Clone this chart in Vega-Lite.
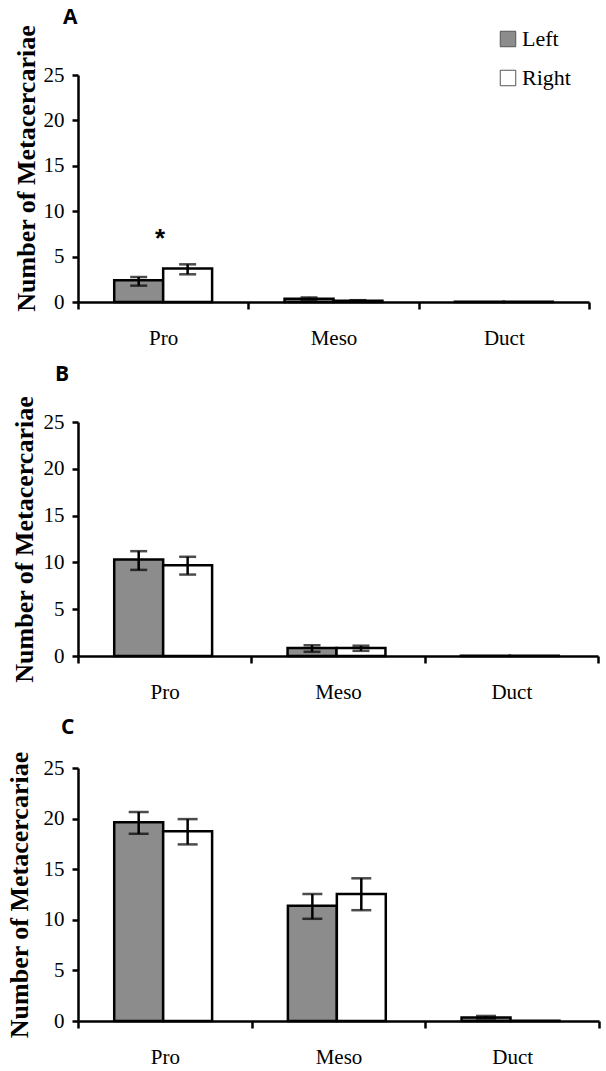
{
  "$schema": "https://vega.github.io/schema/vega-lite/v6.json",
  "padding": {"left": 5, "top": 6, "right": 0, "bottom": 0},
  "background": "white",
  "datasets": {
    "bars": [
      {"panel": "A", "region": "Pro", "side": "Left", "mean": 2.4, "lo": 1.8, "hi": 2.75},
      {"panel": "A", "region": "Pro", "side": "Right", "mean": 3.7, "lo": 3.05, "hi": 4.15},
      {"panel": "A", "region": "Meso", "side": "Left", "mean": 0.35, "lo": 0.25, "hi": 0.5},
      {"panel": "A", "region": "Meso", "side": "Right", "mean": 0.15, "lo": 0.1, "hi": 0.2},
      {"panel": "A", "region": "Duct", "side": "Left", "mean": 0.02, "lo": null, "hi": null},
      {"panel": "A", "region": "Duct", "side": "Right", "mean": 0.02, "lo": null, "hi": null},
      {"panel": "B", "region": "Pro", "side": "Left", "mean": 10.3, "lo": 9.2, "hi": 11.2},
      {"panel": "B", "region": "Pro", "side": "Right", "mean": 9.7, "lo": 8.7, "hi": 10.6},
      {"panel": "B", "region": "Meso", "side": "Left", "mean": 0.85, "lo": 0.45, "hi": 1.15},
      {"panel": "B", "region": "Meso", "side": "Right", "mean": 0.85, "lo": 0.55, "hi": 1.1},
      {"panel": "B", "region": "Duct", "side": "Left", "mean": 0.02, "lo": null, "hi": null},
      {"panel": "B", "region": "Duct", "side": "Right", "mean": 0.02, "lo": null, "hi": null},
      {"panel": "C", "region": "Pro", "side": "Left", "mean": 19.65, "lo": 18.5, "hi": 20.65},
      {"panel": "C", "region": "Pro", "side": "Right", "mean": 18.75, "lo": 17.45, "hi": 19.95},
      {"panel": "C", "region": "Meso", "side": "Left", "mean": 11.4, "lo": 10.1, "hi": 12.55},
      {"panel": "C", "region": "Meso", "side": "Right", "mean": 12.55, "lo": 10.95, "hi": 14.1},
      {"panel": "C", "region": "Duct", "side": "Left", "mean": 0.35, "lo": 0.25, "hi": 0.5},
      {"panel": "C", "region": "Duct", "side": "Right", "mean": 0.02, "lo": null, "hi": null}
    ],
    "stars": [
      {"region": "Pro", "y": 7.6, "label": "*"}
    ]
  },
  "config": {
    "view": {"stroke": null},
    "font": "Liberation Serif",
    "style": {"guide-label": {"font": "Liberation Serif", "fontSize": 21, "fill": "black"}, "guide-title": {"font": "Liberation Serif", "fontSize": 26, "fontWeight": "bold", "fill": "black"}},
    "axis": {
      "grid": false,
      "domainColor": "black",
      "domainWidth": 2.5,
      "tickColor": "black",
      "tickWidth": 2.5,
      "labelColor": "black",
      "labelFont": "Liberation Serif",
      "labelFontSize": 21,
      "titleColor": "black",
      "titleFont": "Liberation Serif",
      "titleFontSize": 26,
      "titleFontWeight": "bold"
    },
    "axisX": {"tickBand": "extent", "tickSize": 7, "labelPadding": 18, "labelAngle": 0, "title": null, "labelFont": "Liberation Serif", "labelFontSize": 21},
    "axisY": {"tickSize": 6, "labelPadding": 8, "titlePadding": 4, "values": [0, 5, 10, 15, 20, 25], "labelFont": "Liberation Serif", "labelFontSize": 21},
    "title": {"font": "Open Sans", "fontWeight": "bold", "fontSize": 21, "anchor": "start", "frame": "group", "color": "black"}
  },
  "align": "none",
  "spacing": 15,
  "resolve": {"scale": {"fill": "independent"}},
  "vconcat": [
    {
      "title": {"text": "A", "dx": -15, "offset": -3},
      "width": 511,
      "height": 227,
      "layer": [
        {
          "data": {"name": "bars"},
          "transform": [{"filter": "datum.panel === 'A'"}],
          "mark": {"type": "bar", "stroke": "black", "strokeWidth": 2.5},
          "encoding": {
            "x": {"field": "region", "type": "nominal", "sort": ["Pro", "Meso", "Duct"], "scale": {"paddingInner": 0, "paddingOuter": 0}, "axis": {"labelFont": "Liberation Serif"}},
            "xOffset": {"field": "side", "type": "nominal", "sort": ["Left", "Right"], "scale": {"paddingInner": 0, "paddingOuter": 0.74}},
            "y": {"field": "mean", "type": "quantitative", "scale": {"domain": [0, 25], "nice": false}, "title": "Number of Metacercariae", "axis": {"labelFont": "Liberation Serif", "titlePadding": 4, "titleY": 93}},
            "fill": {"field": "side", "type": "nominal", "scale": {"domain": ["Left", "Right"], "range": ["#8c8c8c", "#ffffff"]},
              "legend": {"title": null, "orient": "none", "legendX": 419, "legendY": -47, "symbolType": "square", "symbolSize": 240, "symbolStrokeColor": "#555555", "symbolStrokeWidth": 1, "labelFont": "Liberation Serif", "labelFontSize": 22, "labelColor": "black", "labelOffset": 3, "rowPadding": 17}}
          }
        },
        {
          "data": {"name": "bars"},
          "transform": [{"filter": "datum.panel === 'A'"}],
          "mark": {"type": "rule", "color": "black", "strokeWidth": 2.5},
          "encoding": {
            "x": {"field": "region", "type": "nominal", "sort": ["Pro", "Meso", "Duct"]},
            "xOffset": {"field": "side", "type": "nominal", "sort": ["Left", "Right"]},
            "y": {"field": "lo", "type": "quantitative", "title": "Number of Metacercariae"},
            "y2": {"field": "hi"}
          }
        },
        {
          "data": {"name": "bars"},
          "transform": [{"filter": "datum.panel === 'A'"}],
          "mark": {"type": "tick", "color": "black", "size": 17, "thickness": 2.5},
          "encoding": {
            "x": {"field": "region", "type": "nominal", "sort": ["Pro", "Meso", "Duct"]},
            "xOffset": {"field": "side", "type": "nominal", "sort": ["Left", "Right"]},
            "y": {"field": "lo", "type": "quantitative", "title": "Number of Metacercariae"}
          }
        },
        {
          "data": {"name": "bars"},
          "transform": [{"filter": "datum.panel === 'A'"}],
          "mark": {"type": "tick", "color": "black", "size": 17, "thickness": 2.5},
          "encoding": {
            "x": {"field": "region", "type": "nominal", "sort": ["Pro", "Meso", "Duct"]},
            "xOffset": {"field": "side", "type": "nominal", "sort": ["Left", "Right"]},
            "y": {"field": "hi", "type": "quantitative", "title": "Number of Metacercariae"}
          }
        },
        {
          "data": {"name": "stars"},
          "mark": {"type": "text", "font": "Liberation Sans", "fontWeight": "bold", "fontSize": 26, "baseline": "middle", "align": "center", "dx": -3, "dy": 6, "color": "black"},
          "encoding": {
            "x": {"field": "region", "type": "nominal", "sort": ["Pro", "Meso", "Duct"]},
            "y": {"field": "y", "type": "quantitative", "title": "Number of Metacercariae"},
            "text": {"field": "label"}
          }
        }
      ]
    },
    {
      "title": {"text": "B", "dx": -23, "offset": 11},
      "width": 520,
      "height": 234,
      "layer": [
        {
          "data": {"name": "bars"},
          "transform": [{"filter": "datum.panel === 'B'"}],
          "mark": {"type": "bar", "stroke": "black", "strokeWidth": 2.5},
          "encoding": {
            "x": {"field": "region", "type": "nominal", "sort": ["Pro", "Meso", "Duct"], "scale": {"paddingInner": 0, "paddingOuter": 0}, "axis": {"labelFont": "Liberation Serif"}},
            "xOffset": {"field": "side", "type": "nominal", "sort": ["Left", "Right"], "scale": {"paddingInner": 0, "paddingOuter": 0.74}},
            "y": {"field": "mean", "type": "quantitative", "scale": {"domain": [0, 25], "nice": false}, "title": "Number of Metacercariae", "axis": {"labelFont": "Liberation Serif", "titlePadding": 6}},
            "fill": {"field": "side", "type": "nominal", "scale": {"domain": ["Left", "Right"], "range": ["#8c8c8c", "#ffffff"]}, "legend": null}
          }
        },
        {
          "data": {"name": "bars"},
          "transform": [{"filter": "datum.panel === 'B'"}],
          "mark": {"type": "rule", "color": "black", "strokeWidth": 2.5},
          "encoding": {
            "x": {"field": "region", "type": "nominal", "sort": ["Pro", "Meso", "Duct"]},
            "xOffset": {"field": "side", "type": "nominal", "sort": ["Left", "Right"]},
            "y": {"field": "lo", "type": "quantitative", "title": "Number of Metacercariae"},
            "y2": {"field": "hi"}
          }
        },
        {
          "data": {"name": "bars"},
          "transform": [{"filter": "datum.panel === 'B'"}],
          "mark": {"type": "tick", "color": "black", "size": 17, "thickness": 2.5},
          "encoding": {
            "x": {"field": "region", "type": "nominal", "sort": ["Pro", "Meso", "Duct"]},
            "xOffset": {"field": "side", "type": "nominal", "sort": ["Left", "Right"]},
            "y": {"field": "lo", "type": "quantitative", "title": "Number of Metacercariae"}
          }
        },
        {
          "data": {"name": "bars"},
          "transform": [{"filter": "datum.panel === 'B'"}],
          "mark": {"type": "tick", "color": "black", "size": 17, "thickness": 2.5},
          "encoding": {
            "x": {"field": "region", "type": "nominal", "sort": ["Pro", "Meso", "Duct"]},
            "xOffset": {"field": "side", "type": "nominal", "sort": ["Left", "Right"]},
            "y": {"field": "hi", "type": "quantitative", "title": "Number of Metacercariae"}
          }
        }
      ]
    },
    {
      "title": {"text": "C", "dx": -17, "offset": 13},
      "width": 521,
      "height": 253,
      "layer": [
        {
          "data": {"name": "bars"},
          "transform": [{"filter": "datum.panel === 'C'"}],
          "mark": {"type": "bar", "stroke": "black", "strokeWidth": 2.5},
          "encoding": {
            "x": {"field": "region", "type": "nominal", "sort": ["Pro", "Meso", "Duct"], "scale": {"paddingInner": 0, "paddingOuter": 0}, "axis": {"labelFont": "Liberation Serif"}},
            "xOffset": {"field": "side", "type": "nominal", "sort": ["Left", "Right"], "scale": {"paddingInner": 0, "paddingOuter": 0.74}},
            "y": {"field": "mean", "type": "quantitative", "scale": {"domain": [0, 25], "nice": false}, "title": "Number of Metacercariae", "axis": {"labelFont": "Liberation Serif", "titlePadding": 11}},
            "fill": {"field": "side", "type": "nominal", "scale": {"domain": ["Left", "Right"], "range": ["#8c8c8c", "#ffffff"]}, "legend": null}
          }
        },
        {
          "data": {"name": "bars"},
          "transform": [{"filter": "datum.panel === 'C'"}],
          "mark": {"type": "rule", "color": "black", "strokeWidth": 2.5},
          "encoding": {
            "x": {"field": "region", "type": "nominal", "sort": ["Pro", "Meso", "Duct"]},
            "xOffset": {"field": "side", "type": "nominal", "sort": ["Left", "Right"]},
            "y": {"field": "lo", "type": "quantitative", "title": "Number of Metacercariae"},
            "y2": {"field": "hi"}
          }
        },
        {
          "data": {"name": "bars"},
          "transform": [{"filter": "datum.panel === 'C'"}],
          "mark": {"type": "tick", "color": "black", "size": 20, "thickness": 2.5},
          "encoding": {
            "x": {"field": "region", "type": "nominal", "sort": ["Pro", "Meso", "Duct"]},
            "xOffset": {"field": "side", "type": "nominal", "sort": ["Left", "Right"]},
            "y": {"field": "lo", "type": "quantitative", "title": "Number of Metacercariae"}
          }
        },
        {
          "data": {"name": "bars"},
          "transform": [{"filter": "datum.panel === 'C'"}],
          "mark": {"type": "tick", "color": "black", "size": 20, "thickness": 2.5},
          "encoding": {
            "x": {"field": "region", "type": "nominal", "sort": ["Pro", "Meso", "Duct"]},
            "xOffset": {"field": "side", "type": "nominal", "sort": ["Left", "Right"]},
            "y": {"field": "hi", "type": "quantitative", "title": "Number of Metacercariae"}
          }
        }
      ]
    }
  ]
}
